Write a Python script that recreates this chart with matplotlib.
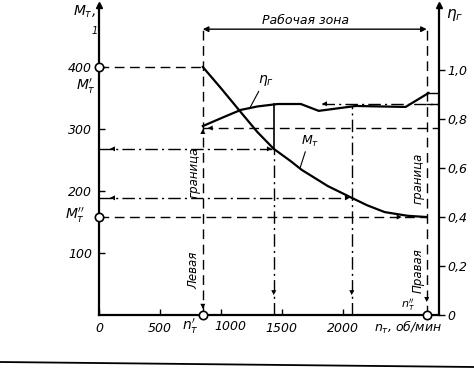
import matplotlib
matplotlib.use("Agg")
import matplotlib.pyplot as plt
from matplotlib.lines import Line2D

# turbine torque curve M_T(n)
n_mt = [852, 1000, 1164, 1300, 1434, 1574, 1664, 1779, 1877, 2074, 2200, 2344, 2533, 2689]
m_t = [400, 366, 327, 295, 268, 248, 234, 220, 208, 189, 177, 166, 160, 158]

# efficiency curve eta_g(n)
n_eta = [852, 1025, 1164, 1300, 1467, 1656, 1803, 2107, 2516, 2705]
eta_g = [0.771, 0.808, 0.837, 0.851, 0.861, 0.861, 0.833, 0.853, 0.849, 0.906]

# boundaries of the working zone
n_left, n_right = 852, 2689
m_left, m_right = 400, 158
n_check = [1434, 2074]
m_check = [268, 189]
eta_check = [0.861, 0.853]
eta_lo, eta_mid, eta_hi = 0.763, 0.862, 0.906
zone_top = 466

x_ticks = [0, 500, 1000, 1500, 2000]
x_labels = ["0", "500", "", "1500", "2000"]
m_ticks = [100, 200, 300, 400]
eta_ticks = [0, 0.2, 0.4, 0.6, 0.8, 1.0]
eta_labels = ["0", "0,2", "0,4", "0,6", "0,8", "1,0"]

X_MAX, M_MAX, ETA_MAX = 2790, 500, 1.265
k = ETA_MAX / M_MAX   # M units -> eta units (same baseline)

W, H = 474, 379
plt.rcParams["font.family"] = "DejaVu Sans"
plt.rcParams["font.style"] = "italic"
plt.rcParams["mathtext.fontset"] = "dejavusans"

fig = plt.figure(figsize=(W / 100, H / 100), dpi=100)
ax = fig.add_axes([99 / W, 64 / H, 340 / W, 310 / H])
ax2 = ax.twinx()
ax.set_xlim(0, X_MAX)
ax.set_ylim(0, M_MAX)
ax2.set_ylim(0, ETA_MAX)

for a in (ax, ax2):
    a.spines["top"].set_visible(False)
    for s in a.spines.values():
        s.set_linewidth(1.6)
ax.spines["right"].set_visible(False)
ax2.spines["left"].set_visible(False)
ax2.spines["bottom"].set_visible(False)

ax.set_xticks(x_ticks)
ax.set_xticklabels(x_labels)
ax.set_yticks(m_ticks)
ax.tick_params(axis="both", direction="in", length=4, width=1, labelsize=9, pad=5)
ax2.set_yticks(eta_ticks)
ax2.set_yticklabels(eta_labels)
ax2.tick_params(axis="y", direction="out", length=4, width=1, labelsize=9, pad=2)

DASH = (0, (7, 4))
DDOT = (0, (9, 3, 1.5, 3))
LK = dict(color="k", lw=1.0)

def head(a, x, y, dx, dy):
    a.annotate("", xy=(x, y), xytext=(x - dx, y - dy),
               arrowprops=dict(arrowstyle="-|>", color="k", lw=0,
                               mutation_scale=9, shrinkA=0, shrinkB=0))

# main curves
ax.plot(n_mt, m_t, color="k", lw=1.6, zorder=4)
ax2.plot(n_eta, eta_g, color="k", lw=1.6, zorder=4)

# projections to the M axis
ax.plot([0, n_left], [m_left, m_left], ls=DASH, **LK)
ax.plot([0, n_right], [m_right, m_right], ls=DASH, **LK)
head(ax, 2484, m_right, 60, 0)
for n, m in zip(n_check, m_check):
    ax.plot([0, n], [m, m], ls=DDOT, **LK)
    head(ax, 90, m, -60, 0)
    head(ax, n - 15, m, 60, 0)

# working zone boundaries
for n in (n_left, n_right):
    ax.plot([n, n], [0, zone_top], ls=DASH, **LK)
ax.annotate("", xy=(n_left, zone_top - 5), xytext=(n_right, zone_top - 5),
            arrowprops=dict(arrowstyle="<|-|>", color="k", lw=1,
                            mutation_scale=8, shrinkA=0, shrinkB=0))
head(ax, n_left, 300, 0, 25)
head(ax, n_left, 10, 0, -25)
head(ax, n_right, 21, 0, -25)

# check verticals at 1500 and 2000
ax2.plot([n_check[0]] * 2, [m_check[0] * k, eta_check[0]], color="k", lw=1.2)
ax2.plot([n_check[0]] * 2, [0, m_check[0] * k], ls=DDOT, **LK)
ax2.plot([n_check[1]] * 2, [0, eta_check[1]], ls=DDOT, **LK)
for n in n_check:
    head(ax, n, 32, 0, -25)

# efficiency reference lines
ax2.plot([n_left, X_MAX], [eta_lo, eta_lo], ls=DASH, **LK)
head(ax2, n_left + 40, eta_lo, -60, 0)
ax2.plot([1830, X_MAX], [eta_mid, eta_mid], ls=DDOT, **LK)
head(ax2, 1830, eta_mid, -60, 0)
ax2.plot([n_right, X_MAX], [eta_hi, eta_hi], color="k", lw=1.0)
ax2.plot([n_right, X_MAX], [eta_mid, eta_mid], color="k", lw=1.0)

# axis arrows and circles
ax.plot([0], [M_MAX], marker="^", color="k", ms=5, clip_on=False)
ax2.plot([X_MAX], [ETA_MAX], marker="^", color="k", ms=5, clip_on=False)
ax.plot([0, 0, n_left, n_right], [m_left, m_right, 0, 0], "o", mfc="white",
        mec="k", mew=1.2, ms=6, clip_on=False, zorder=6)

# curve labels
ax2.annotate(r"$\eta_г$", xy=(1235, 0.842), xytext=(1369, 0.955), fontsize=10,
             ha="center", va="center",
             arrowprops=dict(arrowstyle="-", lw=0.8, color="k", relpos=(0.2, 0.1),
                             shrinkA=0, shrinkB=0))
ax.annotate(r"$M_т$", xy=(1648, 236), xytext=(1730, 280), fontsize=9,
            ha="center", va="center",
            arrowprops=dict(arrowstyle="-", lw=0.8, color="k", relpos=(0.3, 0.0),
                            shrinkA=0, shrinkB=0))

def ftext(x, y, s, **kw):
    kw.setdefault("fontsize", 9)
    fig.text(x / W, 1 - y / H, s, ha="center", va="center", **kw)

ftext(84, 12, r"$M_т$,", fontsize=10)
ftext(95, 31, "1", fontsize=7)
ftext(86, 86, r"$M_т'$", fontsize=10)
ftext(75, 215, r"$M_т''$", fontsize=10)
ftext(455, 15, r"$\eta_г$", fontsize=11)
ftext(305, 20, "Рабочая зона")
ftext(194, 172, "граница", rotation=90, fontsize=8.5)
ftext(194, 270, "Левая", rotation=90, fontsize=8.5)
ftext(418, 178, "граница", rotation=90, fontsize=8.5)
ftext(418, 271, "Правая", rotation=90, fontsize=8.5)
ftext(190, 326, r"$n_т'$", fontsize=10)
ftext(408, 305, r"$n_т''$", fontsize=8)
ftext(230, 327, "1000")
ftext(408, 327, r"$n_т$, об/мин")

fig.add_artist(Line2D([0, 1], [1 - 362 / H, 1 - 367 / H], color="k", lw=1.3))

fig.savefig("out.png", dpi=100, facecolor="white")
